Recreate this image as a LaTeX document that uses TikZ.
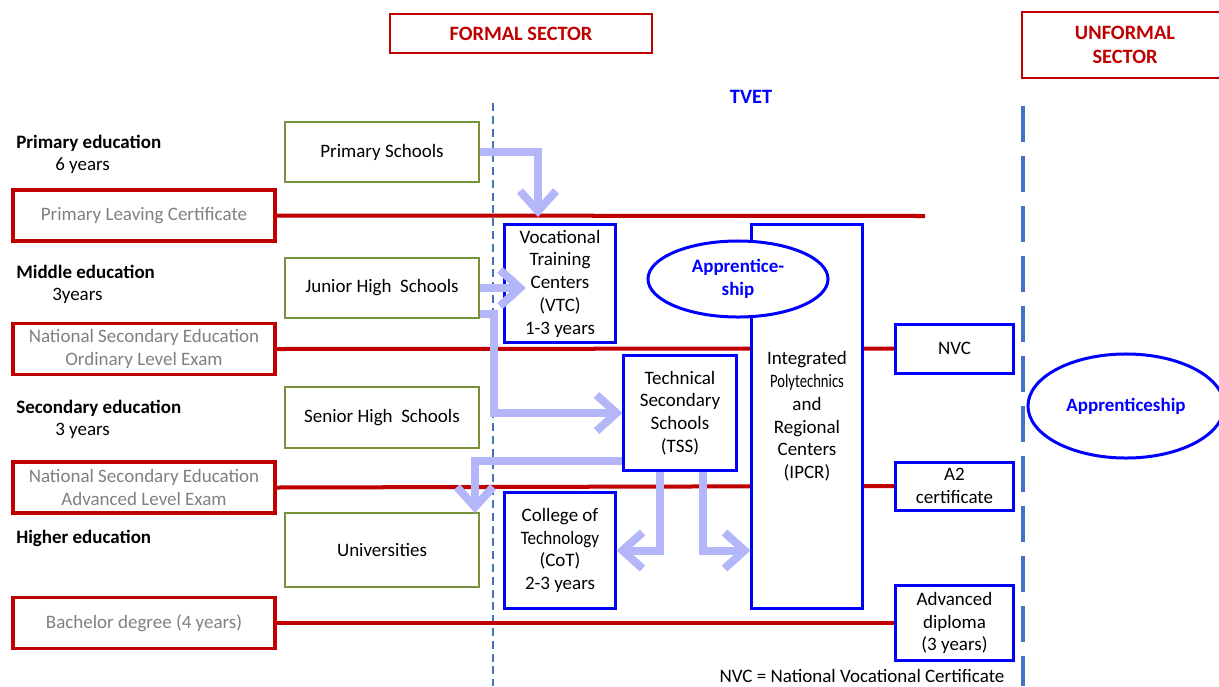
\documentclass[tikz,border=0pt]{standalone}
\usepackage{fontspec}
\setmainfont{Carlito}
\usetikzlibrary{arrows.meta,shapes.geometric,calc}

\definecolor{certred}{RGB}{192,0,0}
\definecolor{schoolgreen}{RGB}{118,146,60}
\definecolor{flowblue}{RGB}{180,182,250}
\definecolor{sepblue}{RGB}{68,114,196}

\tikzset{
    txt/.style={font=\fontsize{13.5}{16.2}\selectfont},
    boldtxt/.style={font=\fontsize{13.5}{16.2}\selectfont\bfseries},
    certbox/.style={txt, draw=certred, line width=0.08cm, fill=white, text=gray,
        minimum width=6.55cm, minimum height=1.275cm, align=center, inner sep=0pt},
    schoolbox/.style={txt, draw=schoolgreen, line width=0.07cm, fill=white,
        minimum width=4.85cm, minimum height=1.5cm, align=center, inner sep=0pt},
    tvetbox/.style={txt, draw=blue, line width=0.075cm, fill=white,
        minimum width=2.75cm, align=center, inner sep=0pt},
    qualbox/.style={tvetbox, minimum width=2.925cm},
    sectorbox/.style={draw=certred, line width=0.04cm, text=certred,
        font=\fontsize{14.5}{17}\selectfont\bfseries, align=center, inner sep=0pt},
    apprent/.style={ellipse, boldtxt, draw=blue, line width=0.075cm, fill=white, text=blue,
        align=center, inner sep=0pt},
    edulabel/.style={txt, anchor=west, inner sep=0pt},
    certline/.style={draw=certred, line width=0.1cm},
    flow/.style={draw=flowblue, line width=0.2cm, line join=miter,
        -{Straight Barb[length=0.5cm,width=0.9cm]}},
}

\begin{document}
\begin{tikzpicture}[x=0.025cm, y=-0.025cm]
    \useasboundingbox (0,0) rectangle (1219,686);

    % sectors
    \node[sectorbox, minimum width=6.55cm, minimum height=0.975cm] (formal) at (521,33.5) {FORMAL SECTOR};
    \node[sectorbox, minimum width=5.15cm, minimum height=1.65cm] (unformal) at (1125,45) {UNFORMAL\\SECTOR};
    \node[text=blue, font=\fontsize{14.5}{17}\selectfont\bfseries] (tvet) at (751,97) {TVET};
    \draw[sepblue, line width=0.035cm, dash pattern=on 0.2cm off 0.12cm] (493,103) -- (493,686);
    \draw[sepblue, line width=0.1cm, dash pattern=on 0.9cm off 0.35cm] (1023,106) -- (1023,686);

    % levels
    \node[edulabel, boldtxt] (lprim) at (16,143) {Primary education};
    \node[edulabel] (lprimy) at (55,166) {6 years};
    \node[edulabel, boldtxt] (lmid) at (16,272) {Middle education};
    \node[edulabel] (lmidy) at (52,296) {3years};
    \node[edulabel, boldtxt] (lsec) at (16,408) {Secondary education};
    \node[edulabel] (lsecy) at (55,431) {3 years};
    \node[edulabel, boldtxt] (lhigh) at (16,538) {Higher education};

    % certificates
    \node[certbox] (plc) at (144,215.5) {Primary Leaving Certificate};
    \node[certbox] (nseo) at (144,349) {National Secondary Education\\Ordinary Level Exam};
    \node[certbox] (nsea) at (144,487.5) {National Secondary Education\\Advanced Level Exam};
    \node[certbox] (bach) at (144,623) {Bachelor degree (4 years)};

    \node[qualbox, minimum height=1.225cm] (nvc) at (954.5,348.5) {NVC};
    \node[qualbox, minimum height=1.2cm] (a2) at (954.5,486) {A2\\certificate};
    \node[qualbox, minimum height=1.85cm] (adv) at (954.5,623) {Advanced\\diploma\\(3 years)};

    \coordinate (plcend) at (925,216);
    \draw[certline] (plc.east) -- (plcend);
    \draw[certline] (nseo.east) -- (nvc.west);
    \draw[certline] (nsea.east) -- (a2.west);
    \draw[certline] (bach.east) -- (adv.west);

    % schools
    \node[schoolbox] (ps) at (382,152) {Primary Schools};
    \node[schoolbox] (jhs) at (382,288) {Junior High\ \ Schools};
    \node[schoolbox, minimum height=1.525cm] (shs) at (382,417.5) {Senior High\ \ Schools};
    \node[schoolbox, minimum height=1.85cm] (uni) at (382,550) {Universities};

    % tvet
    \node[tvetbox, minimum height=2.925cm] (vtc) at (560,283.5) {Vocational\\Training\\Centers\\(VTC)\\1-3 years};
    \node[tvetbox, minimum width=2.8cm, minimum height=2.85cm] (tss) at (680,413) {Technical\\Secondary\\Schools\\(TSS)};
    \node[tvetbox, minimum height=2.875cm] (cot) at (560,550.5) {College of\\\scalebox{.9}[1]{Technology}\\(CoT)\\2-3 years};
    \node[tvetbox, minimum height=9.575cm] (ipcr) at (807,416.5) {Integrated\\\scalebox{.77}[1]{Polytechnics}\\and\\Regional\\Centers\\(IPCR)};
    \node[apprent, minimum width=4.5cm, minimum height=1.9cm] (app) at (738,279) {Apprentice-\\ship};
    \node[apprent, minimum width=4.9cm, minimum height=2.6cm] (appu) at (1126,406) {Apprenticeship};

    % pathways
    \draw[flow] (ps.east) -| (538,217);
    \draw[flow] (jhs.east) -- (526,288);
    \draw[flow] ($(jhs.south east)+(0,-5)$) -| (494,413) -- (tss.west);
    \draw[flow] ($(tss.west)+(0,48)$) -| (475,513);
    \draw[flow] ($(tss.south)+(-20,0)$) |- (cot.east);
    \draw[flow] ($(tss.south)+(23,0)$) |- (ipcr.west |- cot.east);

    \node[txt, inner sep=0pt] (note) at (862,676) {NVC = National Vocational Certificate};
\end{tikzpicture}
\end{document}
